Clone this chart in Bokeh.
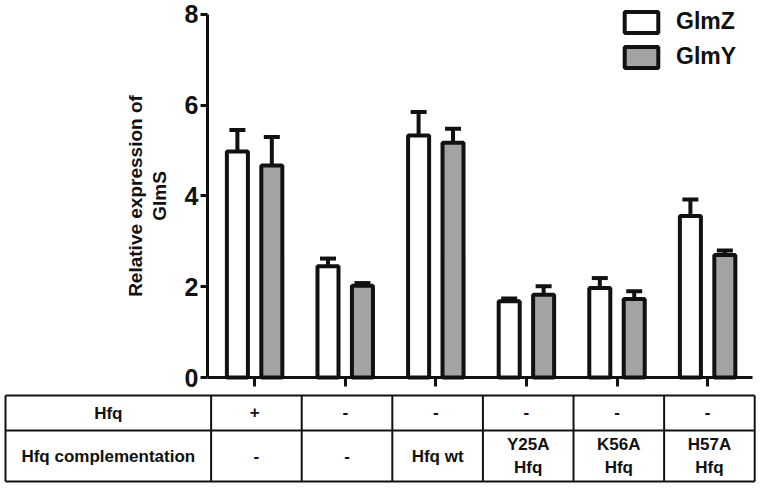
from bokeh.plotting import figure
from bokeh.models import (Range1d, FixedTicker, LinearAxis, Whisker, ColumnDataSource,
                          Legend, LegendItem, TeeHead)
from bokeh.embed import file_html
from bokeh.resources import INLINE
from bokeh.core.properties import value

# ---------------- data ----------------
groups = ["WT", "hfq-", "hfq wt", "Y25A", "K56A", "H57A"]
glmz = [4.98, 2.45, 5.33, 1.68, 1.97, 3.56]
glmz_err = [0.47, 0.17, 0.52, 0.06, 0.22, 0.36]
glmy = [4.67, 2.02, 5.17, 1.82, 1.73, 2.70]
glmy_err = [0.63, 0.06, 0.31, 0.19, 0.17, 0.10]
series_names = ["GlmZ", "GlmY"]
y_ticks = [0, 2, 4, 6, 8]
y_label = "Relative expression of\nGlmS"
row_names = ["Hfq", "Hfq complementation"]
hfq_row = ["+", "-", "-", "-", "-", "-"]
compl_row = ["-", "-", "Hfq wt", "Y25A\nHfq", "K56A\nHfq", "H57A\nHfq"]

# ---------------- style / layout ----------------
FONT = "Liberation Sans"
INK = "#111111"
GRAY = "#a3a3a3"
W, H = 758, 486
AXIS_PX = 207      # pixel column of the value axis
ZERO_PX = 377      # pixel row of value 0
PPU = 90.6         # pixels per group
PPY = 45.4         # pixels per value unit
X0, X1 = -0.52, 5.5
OFF = 0.19
BW = 0.232
TABLE_PX = [395, 430, 481]   # table horizontal rules (pixels)
TABLE_LEFT_PX = 5
COL_SHIFT = 0.02


def px_x(px):
    return X0 + (px - AXIS_PX) / PPU


def px_y(py):
    return (ZERO_PX - py) / PPY


xs = list(range(len(groups)))
src = ColumnDataSource(dict(
    xz=[x - OFF for x in xs], xy=[x + OFF for x in xs],
    z=glmz, zt=[a + b for a, b in zip(glmz, glmz_err)],
    y=glmy, yt=[a + b for a, b in zip(glmy, glmy_err)],
))

p = figure(width=W, height=H, x_range=Range1d(px_x(0), px_x(W)),
           y_range=Range1d(px_y(H), px_y(0)),
           output_backend="svg", toolbar_location=None, min_border=0,
           x_axis_type=None, y_axis_type=None)
p.outline_line_color = None
p.background_fill_color = "white"
p.border_fill_color = "white"

yaxis = LinearAxis(fixed_location=X0, bounds=(0, 8), ticker=FixedTicker(ticks=y_ticks),
                   axis_label=y_label)
yaxis.axis_line_width = 3
yaxis.axis_line_color = INK
yaxis.major_tick_line_width = 3
yaxis.major_tick_line_color = INK
yaxis.major_tick_out = 7
yaxis.major_tick_in = 0
yaxis.minor_tick_line_color = None
yaxis.major_label_text_font = FONT
yaxis.major_label_text_font_style = "bold"
yaxis.major_label_text_font_size = "25px"
yaxis.major_label_text_color = INK
yaxis.major_label_standoff = 2
yaxis.axis_label_text_font = FONT
yaxis.axis_label_text_font_style = "bold"
yaxis.axis_label_text_font_size = "19px"
yaxis.axis_label_text_color = INK
yaxis.axis_label_text_line_height = 1.1
yaxis.axis_label_standoff = 12
p.add_layout(yaxis, "left")

# category axis: its tick labels form the "Hfq" row of the table
xaxis = LinearAxis(fixed_location=0, bounds=(X0, X1), ticker=FixedTicker(ticks=xs),
                   major_label_overrides={x: hfq_row[i] for i, x in enumerate(xs)})
xaxis.axis_line_width = 3
xaxis.axis_line_color = INK
xaxis.major_tick_line_width = 3
xaxis.major_tick_line_color = INK
xaxis.major_tick_out = 9
xaxis.major_tick_in = 0
xaxis.minor_tick_line_color = None
xaxis.major_label_text_font = FONT
xaxis.major_label_text_font_style = "bold"
xaxis.major_label_text_font_size = "17px"
xaxis.major_label_text_color = INK
xaxis.major_label_standoff = 19
p.add_layout(xaxis, "below")

rz = p.vbar(x="xz", top="z", bottom=0, width=BW, source=src,
            fill_color="white", line_color=INK, line_width=4)
ry = p.vbar(x="xy", top="y", bottom=0, width=BW, source=src,
            fill_color=GRAY, line_color=INK, line_width=4)
for base, lo, up in (("xz", "z", "zt"), ("xy", "y", "yt")):
    w = Whisker(source=src, base=base, lower=lo, upper=up, dimension="height",
                line_color=INK, line_width=4,
                upper_head=TeeHead(size=16, line_width=4, line_color=INK),
                lower_head=None)
    p.add_layout(w)

legend = Legend(items=[LegendItem(label=series_names[0], renderers=[rz]),
                       LegendItem(label=series_names[1], renderers=[ry])],
                location="top_right", margin=8, padding=0,
                glyph_width=42, glyph_height=26, label_width=74, label_height=26,
                label_standoff=14, spacing=8,
                border_line_color=None, background_fill_alpha=0)
legend.label_text_font = FONT
legend.label_text_font_style = "bold"
legend.label_text_font_size = "23px"
legend.label_text_color = INK
p.add_layout(legend)

# ---------------- table ----------------
row_edges = [px_y(v) for v in TABLE_PX]
left = px_x(TABLE_LEFT_PX)
col_edges = [x - 0.5 + COL_SHIFT for x in xs] + [xs[-1] + 0.5 + COL_SHIFT]
right = col_edges[-1]

p.segment(x0=[left] * 3, x1=[right] * 3, y0=row_edges, y1=row_edges,
          line_color=INK, line_width=2)
vx = [left] + col_edges
p.segment(x0=vx, x1=vx, y0=[row_edges[0]] * len(vx), y1=[row_edges[-1]] * len(vx),
          line_color=INK, line_width=2)

row_centers = [(row_edges[i] + row_edges[i + 1]) / 2 for i in range(2)]
label_x = (left + col_edges[0]) / 2
tx = [label_x, label_x] + [x + COL_SHIFT for x in xs]
ty = list(row_centers) + [row_centers[1]] * len(xs)
tt = list(row_names) + list(compl_row)
p.text(x=tx, y=ty, text=tt, text_align="center", text_baseline="middle",
       text_font=value(FONT), text_font_style="bold", text_font_size="17px",
       text_color=INK, text_line_height=1.2)

open("out.html", "w").write(file_html(p, INLINE))
